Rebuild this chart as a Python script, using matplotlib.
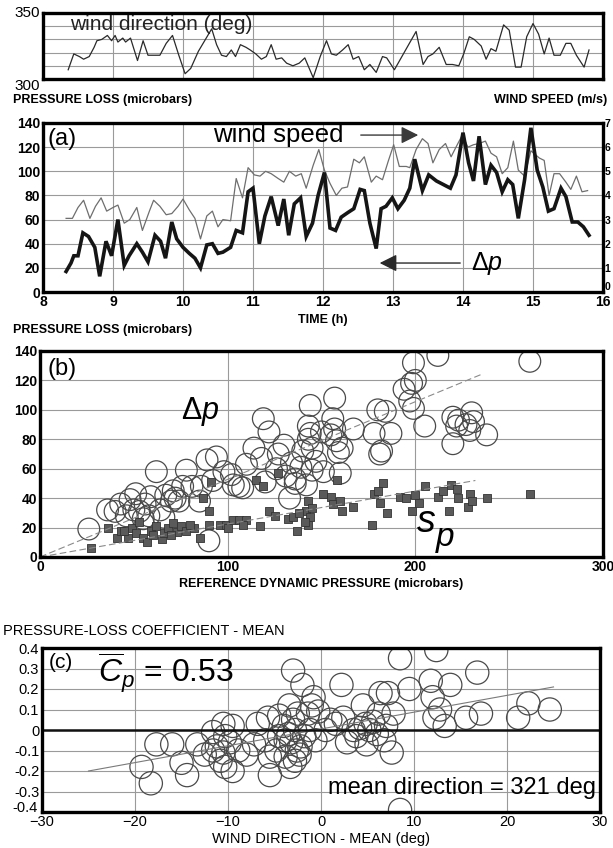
import numpy as np
import matplotlib
matplotlib.use("Agg")
import matplotlib.pyplot as plt

plt.rcParams['font.family'] = ['Liberation Sans', 'DejaVu Sans']
plt.rcParams['mathtext.fontset'] = 'custom'
plt.rcParams['mathtext.rm'] = 'Liberation Sans'
plt.rcParams['mathtext.it'] = 'Liberation Sans:italic'

# ---- top strip: wind direction (deg) vs time (h)
dir_time = [8.36, 8.44, 8.52, 8.58, 8.66, 8.73, 8.77, 8.84, 8.92, 8.98, 9.03, 9.07, 9.14, 9.18,
            9.25, 9.35, 9.43, 9.50, 9.58, 9.67, 9.76, 9.85, 9.94, 10.03, 10.11, 10.22, 10.41,
            10.48, 10.55, 10.62, 10.69, 10.75, 10.82, 10.90, 10.96, 11.04, 11.12, 11.19, 11.26,
            11.33, 11.41, 11.48, 11.57, 11.66, 11.74, 11.86, 11.96, 12.05, 12.12, 12.19, 12.28,
            12.36, 12.43, 12.51, 12.59, 12.67, 12.76, 12.85, 12.91, 13.02, 13.33, 13.43, 13.50,
            13.57, 13.66, 13.76, 13.85, 13.94, 14.01, 14.09, 14.16, 14.26, 14.33, 14.40, 14.47,
            14.58, 14.66, 14.75, 14.83, 14.91, 15.00, 15.08, 15.16, 15.23, 15.30, 15.39, 15.47,
            15.54, 15.62, 15.73, 15.80]
dir_vals = [307, 319, 317, 315, 317, 324, 329, 330, 333, 329, 333, 328, 331, 328,
            331, 314, 329, 318, 318, 318, 327, 333, 318, 304, 308, 321, 338,
            326, 318, 317, 322, 317, 326, 324, 322, 319, 315, 317, 326,
            315, 316, 312, 310, 312, 316, 301, 317, 329, 319, 318, 322,
            326, 315, 317, 307, 311, 305, 317, 316, 307, 336, 311, 317,
            319, 324, 311, 311, 310, 319, 332, 330, 325, 315, 323, 321,
            341, 337, 309, 309, 332, 342, 334, 319, 331, 318, 318, 327,
            327, 318, 309, 322]

# ---- panel (a): pressure loss (microbars) and wind speed (m/s) vs time
dp_time = [8.33, 8.40, 8.44, 8.50, 8.57, 8.65, 8.74, 8.81, 8.90, 8.98, 9.07, 9.16, 9.23, 9.34,
           9.42, 9.50, 9.60, 9.68, 9.75, 9.84, 9.91, 10.00, 10.09, 10.17, 10.25, 10.34, 10.42,
           10.50, 10.57, 10.68, 10.76, 10.85, 10.93, 11.00, 11.09, 11.17, 11.26, 11.36, 11.44,
           11.51, 11.59, 11.68, 11.76, 11.85, 11.93, 12.02, 12.10, 12.18, 12.26, 12.36, 12.44,
           12.53, 12.59, 12.67, 12.76, 12.83, 12.90, 12.99, 13.07, 13.16, 13.24, 13.31, 13.42,
           13.51, 13.62, 13.72, 13.82, 13.90, 14.00, 14.08, 14.15, 14.23, 14.32, 14.40, 14.48,
           14.56, 14.64, 14.71, 14.79, 14.88, 14.97, 15.06, 15.14, 15.22, 15.30, 15.40, 15.47,
           15.56, 15.64, 15.72, 15.80]
dp_vals = [17, 24, 30, 30, 49, 46, 37, 13, 42, 30, 60, 22, 30, 40,
           33, 25, 47, 42, 28, 58, 44, 37, 32, 28, 20, 39, 40,
           32, 33, 37, 51, 49, 83, 86, 40, 63, 79, 55, 77,
           47, 73, 78, 46, 57, 80, 99, 53, 51, 62, 66, 69,
           85, 84, 57, 36, 69, 71, 78, 69, 76, 86, 110, 84,
           97, 92, 89, 86, 97, 132, 107, 92, 129, 89, 105, 99,
           83, 93, 89, 61, 93, 136, 101, 87, 67, 69, 86, 79,
           58, 58, 54, 47]

ws_time = [8.33, 8.42, 8.50, 8.58, 8.67, 8.75, 8.83, 8.91, 9.00, 9.07, 9.16, 9.24, 9.34, 9.42,
           9.52, 9.58, 9.67, 9.76, 9.84, 9.93, 10.00, 10.09, 10.17, 10.25, 10.34, 10.42, 10.50,
           10.57, 10.68, 10.76, 10.85, 10.93, 11.02, 11.10, 11.18, 11.26, 11.36, 11.44, 11.52,
           11.61, 11.69, 11.76, 11.86, 11.94, 12.02, 12.10, 12.19, 12.27, 12.35, 12.44, 12.52,
           12.59, 12.69, 12.76, 12.85, 12.93, 13.01, 13.09, 13.19, 13.24, 13.33, 13.42, 13.50,
           13.57, 13.66, 13.75, 13.83, 13.90, 13.99, 14.07, 14.15, 14.23, 14.32, 14.40, 14.48,
           14.56, 14.64, 14.72, 14.79, 14.88, 14.97, 15.09, 15.16, 15.23, 15.30, 15.38, 15.47,
           15.54, 15.62, 15.70, 15.78]
ws_vals = [3.05, 3.05, 3.5, 3.8, 3.05, 3.55, 3.9, 3.35, 3.5, 3.6, 2.85, 3.0, 3.5, 2.55,
           3.35, 3.8, 3.55, 3.2, 3.25, 3.55, 3.85, 3.4, 3.05, 2.2, 3.15, 3.35, 2.7,
           3.0, 2.95, 4.7, 3.9, 5.15, 4.85, 4.8, 5.0, 4.9, 4.7, 4.55, 5.0,
           4.8, 4.9, 4.3, 5.25, 5.9, 5.05, 4.5, 4.0, 4.3, 4.35, 5.5, 5.35,
           5.6, 4.55, 4.8, 4.65, 5.4, 6.1, 5.2, 5.2, 5.15, 5.9, 6.35, 6.15,
           5.35, 5.9, 6.15, 5.6, 6.0, 6.5, 6.0, 6.1, 6.15, 6.25, 5.75, 5.6,
           4.9, 5.15, 6.25, 5.05, 4.8, 5.85, 5.55, 5.45, 4.0, 4.9, 4.9, 4.55,
           4.25, 4.8, 4.15, 4.2]

# ---- panel (b): pressure loss vs reference dynamic pressure (microbars)
dp_q = [26, 36, 40, 43, 48, 51, 50, 53, 56, 59, 62, 58, 64, 67, 71, 70, 74, 78, 81, 85, 86, 89,
        90, 94, 98, 103, 106, 110, 114, 119, 122, 120, 127, 130, 134, 131, 136, 133, 136, 144,
        143, 144, 143, 145, 145, 142, 139, 151, 157, 156, 157, 158, 159, 160, 167, 180, 184,
        178, 187, 181, 194, 197, 199, 200, 199, 205, 212, 220, 223, 222, 227, 230, 231, 229,
        220, 238, 261, 46, 55, 66, 72, 76, 92, 102, 108, 118, 126, 140, 147, 150, 155, 161,
        182, 198]
dp_pts = [19, 32, 31, 36, 39, 43, 32, 31, 36, 41, 58, 28, 32, 42, 45, 38, 38, 59, 48, 38, 48, 66,
          11, 68, 58, 49, 48, 63, 74, 94, 85, 51, 70, 76, 64, 55, 53, 40, 50, 103,
          89, 84, 80, 74, 59, 49, 61, 58, 108, 94, 87, 79, 71, 57, 87, 100, 99,
          84, 84, 70, 114, 106, 132, 120, 101, 89, 137, 95, 93, 89, 90, 98, 92, 86,
          77, 83, 133, 28, 26, 27, 40, 48, 52, 56, 47, 67, 60, 72, 65, 85, 83, 74,
          72, 118]

sp_q = [27, 36, 41, 43, 47, 49, 51, 55, 57, 53, 59, 62, 65, 66, 68, 71, 73, 75, 78, 82, 85, 87,
        90, 90, 91, 96, 99, 103, 106, 110, 115, 119, 117, 122, 127, 132, 135, 137, 142, 143,
        143, 144, 141, 151, 155, 158, 156, 161, 167, 177, 178, 181, 183, 185, 192, 198, 200,
        202, 205, 212, 218, 219, 222, 223, 228, 229, 230, 238, 261, 45, 60, 70, 80, 100, 108,
        125, 138, 145, 160, 180, 195, 215]
sp_pts = [6, 20, 13, 18, 13, 20, 16, 13, 10, 24, 18, 21, 12, 16, 20, 23, 17, 21, 18, 20, 13, 40,
          31, 22, 51, 22, 22, 25, 25, 25, 52, 48, 21, 31, 57, 26, 27, 18, 31, 22,
          38, 27, 24, 43, 41, 52, 36, 31, 34, 22, 43, 37, 50, 30, 41, 31, 42,
          37, 48, 41, 31, 49, 46, 40, 34, 43, 38, 40, 43, 18, 15, 15, 22, 20, 22,
          28, 30, 33, 38, 45, 40, 45]

# ---- panel (c): pressure-loss coefficient - mean vs wind direction - mean (deg)
cp_dir = [-17.7, -16, -18.3, -19.3, -15, -14.4, -13.3, -11.6, -11.6, -10.5, -10.3, -10.5, -10.3,
          -9.5, -8.9, -7.2, -6.8, -5.7, -5.5, -5.5, -4.5, -4.5, -3.4, -3.0, -3.2, -2.6, -2.0,
          -1.4, -1.2, -0.8, -0.6, 2.2, 2.4, 2.8, 4.5, 4.9, 6.4, 6.8, 7.2, 7.8, 7.6, 8.5, 9.5,
          8.5, 11.8, 12.0, 12.2, 12.8, 13.3, 13.9, 12.4, 15.6, 17.2, 16.8, 21.2, 22.3, 24.6,
          -3.5, -3.8, -2.8, -2.2, -3.0, -4.0, -2.5, -1.8, -3.3, -2.3, -9.8, -10.8, -11.2, -9.5,
          -8.0, -12.5, -6.0, 0.5, 1.0, 3.5, 4.2, 5.2, 5.6, 6.0, 6.2, 3.8, 7.0, -0.3, -1.0, 1.6,
          4.8, -4.8, -3.8, -2.8]
cp_vals = [-0.07, -0.07, -0.26, -0.18, -0.16, -0.22, -0.07, -0.01, -0.10, 0.03, -0.03, -0.11, -0.18,
           -0.20, -0.10, -0.07, 0.03, 0.06, -0.13, -0.22, 0.07, -0.03, 0.12, 0.29, -0.06, -0.10, 0.22,
           0.08, 0.0, 0.16, -0.05, 0.22, 0.06, -0.06, 0.12, -0.07, 0.18, -0.05, 0.18, 0.08, -0.11, 0.35, 0.20,
           -0.39, 0.24, 0.16, 0.06, 0.10, 0.02, 0.22, 0.39, 0.06, 0.08, 0.28, 0.06, 0.13, 0.10,
           -0.02, -0.13, -0.15, -0.08, 0.05, 0.02, 0.08, -0.03, -0.18, -0.12, -0.06, -0.15, -0.08, 0.02,
           -0.12, -0.12, -0.05, 0.0, 0.05, 0.0, 0.01, 0.0, 0.04, -0.02, 0.08, -0.03, 0.02, 0.09, 0.12, 0.03,
           0.03, -0.10, -0.05, 0.0]

# fitted lines
dp_fit_q = [0, 235]
dp_fit = [0, 124]
sp_fit_q = [0, 232]
sp_fit = [0, 52]
cp_fit_dir = [-25, 25]
cp_fit = [-0.2, 0.21]

W, H = 613, 848
fig = plt.figure(figsize=(W / 100, H / 100), dpi=100)

def box(l, t, r, b):
    return [l / W, 1 - b / H, (r - l) / W, (b - t) / H]

grid_kw = dict(color='#9a9a9a', linewidth=0.8)

def frame(ax, lw=2.4):
    for s in ax.spines.values():
        s.set_linewidth(lw)
    ax.tick_params(length=0, pad=2)
    ax.set_axisbelow(True)

# top strip
ax0 = fig.add_axes(box(43, 13, 603, 79))
ax0.plot(dir_time, dir_vals, color='#2a2a2a', lw=0.9)
ax0.set_xlim(8, 16)
ax0.set_ylim(300, 350)
ax0.set_yticks([300, 350])
ax0.set_yticks([310, 320, 330, 340], minor=True)
ax0.set_xticks(range(9, 16))
ax0.set_xticklabels([])
ax0.grid(True, which='both', **grid_kw)
ax0.tick_params(which='both', length=0)
frame(ax0)
ax0.set_yticklabels(['300', '350'], fontsize=11)
ax0.get_yticklabels()[0].set_va('top')
ax0.get_yticklabels()[1].set_va('center')
ax0.text(8.38, 341.5, 'wind direction (deg)', fontsize=15, va='center', color='#222222')

# panel (a)
ax1 = fig.add_axes(box(43, 123, 603, 292))
ax1.plot(ws_time, [v * 20 for v in ws_vals], color='#6e6e6e', lw=0.9)
ax1.plot(dp_time, dp_vals, color='#151515', lw=2.6, solid_joinstyle='miter')
ax1.set_xlim(8, 16)
ax1.set_ylim(0, 140)
ax1.set_xticks(range(8, 17))
ax1.set_yticks(range(0, 141, 20))
ax1.grid(True, **grid_kw)
frame(ax1)
for lab in ax1.get_xticklabels() + ax1.get_yticklabels():
    lab.set_fontsize(10)
    lab.set_fontweight('bold')
ax1r = ax1.twinx()
ax1r.set_ylim(0, 7)
ax1r.set_yticks(range(0, 8))
ax1r.tick_params(length=0, pad=1)
for lab in ax1r.get_yticklabels():
    lab.set_fontsize(7.5)
    lab.set_fontweight('bold')
ax1r.get_yticklabels()[0].set_va('bottom')
ax1.text(8.07, 127, '(a)', fontsize=17, va='center')
ax1.text(10.43, 130, 'wind speed', fontsize=18.5, va='center')
ax1.annotate('', xy=(13.4, 130), xytext=(12.5, 130),
             arrowprops=dict(arrowstyle='-|>', color='#3a3a3a', lw=1.0, mutation_scale=26))
ax1.annotate('', xy=(12.77, 24), xytext=(14.0, 24),
             arrowprops=dict(arrowstyle='-|>', color='#2a2a2a', lw=1.0, mutation_scale=26))
ax1.text(14.12, 24, r'$\mathit{\Delta p}$', fontsize=18, va='center')
ax1.set_xlabel('TIME (h)', fontsize=9, fontweight='bold', labelpad=4)

fig.text(13 / W, 1 - 100 / H, 'PRESSURE LOSS (microbars)', fontsize=9, fontweight='bold',
         va='center', ha='left')
fig.text(607 / W, 1 - 100 / H, 'WIND SPEED (m/s)', fontsize=9, fontweight='bold',
         va='center', ha='right')

# panel (b)
ax2 = fig.add_axes(box(40, 351, 603, 557))
ax2.plot(dp_fit_q, dp_fit, color='#8a8a8a', lw=0.8, ls=(0, (6, 3)))
ax2.plot(sp_fit_q, sp_fit, color='#8a8a8a', lw=0.8, ls=(0, (6, 3)))
ax2.scatter(dp_q, dp_pts, s=245, facecolors='none', edgecolors='#4a4a4a', linewidths=0.9)
ax2.scatter(sp_q, sp_pts, s=40, marker='s', color='#5a5a5a', edgecolors='#333333', linewidths=0.6)
ax2.set_xlim(0, 300)
ax2.set_ylim(0, 140)
ax2.set_xticks([0, 100, 200, 300])
ax2.set_yticks(range(0, 141, 20))
ax2.grid(True, **grid_kw)
frame(ax2)
for lab in ax2.get_xticklabels() + ax2.get_yticklabels():
    lab.set_fontsize(10)
    lab.set_fontweight('bold')
ax2.text(4, 128, '(b)', fontsize=17, va='center')
ax2.text(75, 99, r'$\mathit{\Delta p}$', fontsize=22, va='center')
ax2.text(201, 24, 's', fontsize=27, va='center', style='italic')
ax2.text(211, 13, 'p', fontsize=24, va='center', style='italic')
ax2.set_xlabel('REFERENCE DYNAMIC PRESSURE (microbars)', fontsize=9, fontweight='bold',
               labelpad=3)
fig.text(13 / W, 1 - 330 / H, 'PRESSURE LOSS (microbars)', fontsize=9, fontweight='bold',
         va='center', ha='left')

# panel (c)
ax3 = fig.add_axes(box(42, 648, 600, 812))
ax3.plot(cp_fit_dir, cp_fit, color='#7a7a7a', lw=0.8)
ax3.scatter(cp_dir, cp_vals, s=280, facecolors='none', edgecolors='#4a4a4a', linewidths=0.9)
ax3.axhline(0, color='#111111', lw=1.8)
ax3.set_xlim(-30, 30)
ax3.set_ylim(-0.4, 0.4)
ax3.set_xticks(range(-30, 31, 10))
ax3.set_yticks([-0.3, -0.2, -0.1, 0, 0.1, 0.2, 0.3, 0.4])
ax3.set_yticklabels(['-0.3', '-0.2', '-0.1', '0', '0.1', '0.2', '0.3', '0.4'])
ax3.grid(True, **grid_kw)
frame(ax3)
for lab in ax3.get_xticklabels() + ax3.get_yticklabels():
    lab.set_fontsize(10.5)
# bottom y label sits a little higher, as in the original
ax3.annotate('-0.4', xy=(0, 0), xycoords='axes fraction', xytext=(-3, 3),
             textcoords='offset points', ha='right', va='center', fontsize=10.5)
ax3.text(-29.3, 0.33, '(c)', fontsize=15, va='center')
ax3.text(-24, 0.28, r'$\overline{C}_{p}$ = 0.53', fontsize=23, va='center')
ax3.text(29.6, -0.285, 'mean direction = 321 deg', fontsize=17, va='center', ha='right')
ax3.set_xlabel('WIND DIRECTION - MEAN (deg)', fontsize=10.5, labelpad=2)
fig.text(3 / W, 1 - 631 / H, 'PRESSURE-LOSS COEFFICIENT - MEAN', fontsize=10.5,
         va='center', ha='left')

fig.savefig('out.png', dpi=100)
